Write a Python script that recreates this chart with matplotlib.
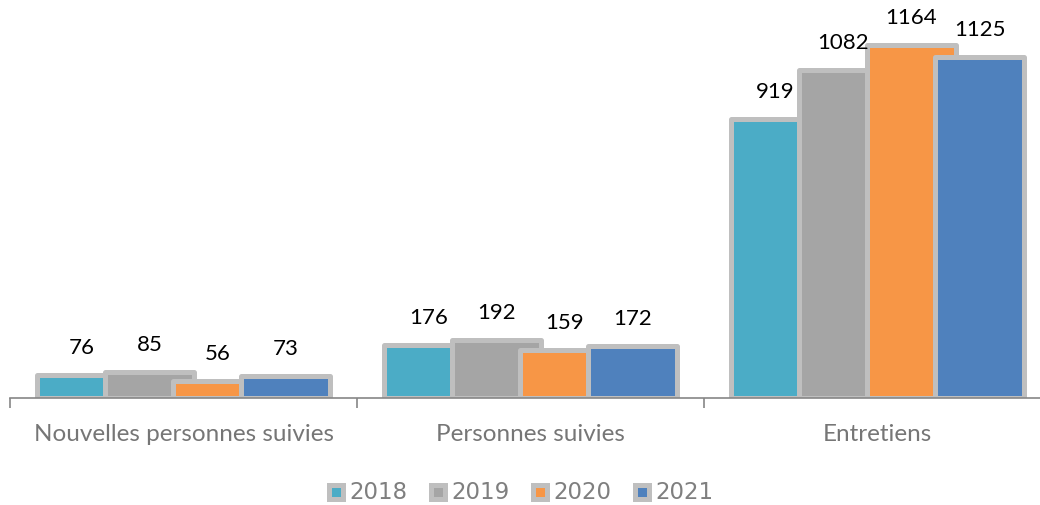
import matplotlib
matplotlib.use("Agg")
import matplotlib.pyplot as plt
from matplotlib.lines import Line2D
import numpy as np

categories = ["Nouvelles personnes suivies", "Personnes suivies", "Entretiens"]
years = ["2018", "2019", "2020", "2021"]
values_2018 = [76, 176, 919]
values_2019 = [85, 192, 1082]
values_2020 = [56, 159, 1164]
values_2021 = [73, 172, 1125]
series = [values_2018, values_2019, values_2020, values_2021]
colors = ["#4BACC6", "#A5A5A5", "#F79646", "#4F81BD"]
edge_color = "#BFBFBF"

W, H, DPI = 1040, 506, 100
fig = plt.figure(figsize=(W / DPI, H / DPI), dpi=DPI)

# plot area in pixels: x from 10 to 1051 (last boundary runs off the canvas), baseline at y=399
left_px, right_px = 10, 1051
base_px = 399
ymax = 1300
px_per_unit = 0.3035
top_px = base_px - ymax * px_per_unit
ax = fig.add_axes([left_px / W, (H - base_px) / H,
                   (right_px - left_px) / W, (base_px - top_px) / H])
ax.set_xlim(0, 3)
ax.set_ylim(0, ymax)

centers = np.arange(len(categories)) + 0.5
offsets = [-0.294, -0.098, 0.098, 0.294]
bar_w = 0.259
edge_lw = 5 * 72 / DPI

for vals, col, off in zip(series, colors, offsets):
    bars = ax.bar(centers + off, vals, width=bar_w, color=col,
                  edgecolor=edge_color, linewidth=edge_lw, zorder=2)
    for b in bars:
        b.set_joinstyle("round")
    for x, v in zip(centers + off, vals):
        ax.annotate(str(v), xy=(x, v), xytext=(0, 20), textcoords="offset points",
                    ha="center", va="center", fontsize=16, color="black",
                    family="Lato", zorder=4)

for s in ["top", "right", "left"]:
    ax.spines[s].set_visible(False)
ax.spines["bottom"].set_color("#868686")
ax.spines["bottom"].set_linewidth(1.2)
ax.spines["bottom"].set_zorder(5)
ax.set_yticks([])
ax.set_xticks([0, 1, 2, 3])
ax.set_xticklabels([])
ax.tick_params(axis="x", which="major", length=7, width=1.2, color="#868686")
ax.set_xticks(centers, minor=True)
ax.set_xticklabels(categories, minor=True, fontsize=17.5, color="#767676", family="Lato")
ax.tick_params(axis="x", which="minor", length=0, pad=18)

# legend row drawn in pixel positions
legend_y = 493
item_x = [336, 438, 540, 642]
for x, col, yr in zip(item_x, colors, years):
    fig.add_artist(Line2D([x / W], [(H - legend_y) / H], transform=fig.transFigure,
                          marker="s", markersize=14 * 72 / DPI, markerfacecolor=col,
                          markeredgecolor=edge_color, markeredgewidth=5 * 72 / DPI,
                          linestyle="none"))
    fig.text((x + 13) / W, (H - legend_y) / H, yr, ha="left", va="center",
             fontsize=16.5, color="#7F7F7F", family="DejaVu Sans")

fig.savefig("out.png", dpi=DPI)
